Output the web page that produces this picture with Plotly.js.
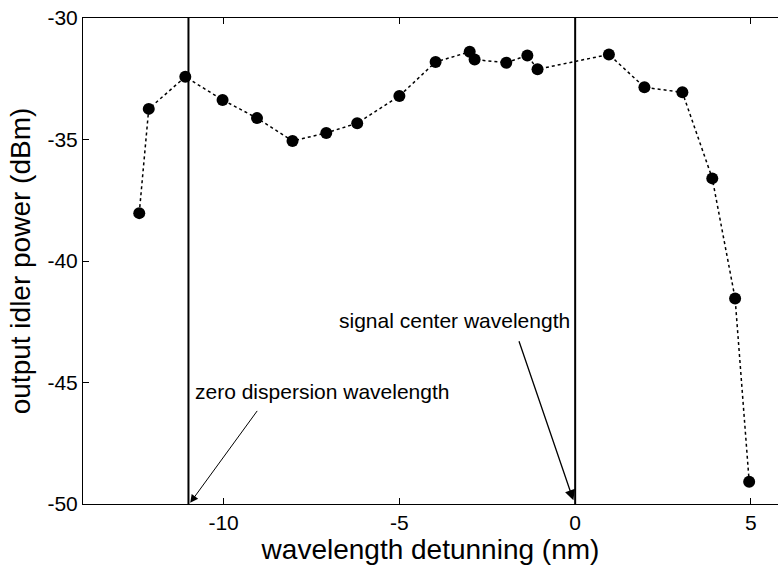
<!DOCTYPE html>
<html>
<head>
<meta charset="utf-8">
<script src="https://cdn.plot.ly/plotly-3.0.1.min.js"></script>
<style>html,body{margin:0;padding:0;background:#fff;overflow:hidden}#chart{width:778px;height:565px}</style>
</head>
<body>
<div id="chart"></div>
<script>
// Data
const detuning = [-12.4, -12.13, -11.09, -10.03, -9.05, -8.04, -7.08, -6.2, -5.0, -3.97, -3.0, -2.86, -1.96, -1.36, -1.07, 0.96, 1.97, 3.05, 3.9, 4.55, 4.95];
const idlerPower = [-38.03, -33.74, -32.42, -33.37, -34.12, -35.06, -34.73, -34.33, -33.21, -31.81, -31.39, -31.71, -31.84, -31.54, -32.11, -31.5, -32.85, -33.06, -36.6, -41.54, -49.08];
const markerLines = [-11, 0];
const markerLabels = ["zero dispersion wavelength", "signal center wavelength"];
const xTicks = [-10, -5, 0, 5];
const yTicks = [-50, -45, -40, -35, -30];

const FONT = "Liberation Sans, Arial, sans-serif";

const trace = {
  x: detuning, y: idlerPower, type: 'scatter', mode: 'lines+markers',
  line: {color: '#000', width: 1.5, dash: 'dot'},
  marker: {color: '#000', size: 12},
  hoverinfo: 'skip', showlegend: false
};

const shapes = markerLines.map(v => ({
  type: 'line', xref: 'x', yref: 'paper', x0: v, x1: v, y0: 0, y1: 1,
  line: {color: '#000', width: 2}
}));

const annotations = [
  {x: -10.87, y: -45.35, xref: 'x', yref: 'y', text: markerLabels[0], showarrow: false,
   xanchor: 'left', yanchor: 'middle', font: {family: FONT, size: 21, color: '#000'}},
  {x: -0.08, y: -42.45, xref: 'x', yref: 'y', text: markerLabels[1], showarrow: false,
   xanchor: 'right', yanchor: 'middle', font: {family: FONT, size: 21, color: '#000'}},
  {x: markerLines[0] + 0.05, y: -49.95, ax: -8.96, ay: -46.0, axref: 'x', ayref: 'y', xref: 'x', yref: 'y',
   text: ' ', showarrow: true, arrowhead: 2, arrowsize: 1.6, arrowwidth: 1, arrowcolor: '#000', standoff: 0, startstandoff: 0},
  {x: markerLines[1] - 0.05, y: -49.85, ax: -1.68, ay: -42.95, axref: 'x', ayref: 'y', xref: 'x', yref: 'y',
   text: ' ', showarrow: true, arrowhead: 2, arrowsize: 1.6, arrowwidth: 1.3, arrowcolor: '#000', standoff: 0, startstandoff: 0}
];

const layout = {
  width: 778, height: 565,
  margin: {l: 83, r: 0, t: 18, b: 61},
  paper_bgcolor: '#fff', plot_bgcolor: '#fff',
  font: {family: FONT, color: '#000'},
  xaxis: {
    range: [-14, 5.77], tickvals: xTicks, ticktext: xTicks.map(String),
    ticks: 'inside', ticklen: 6, tickcolor: '#000', tickwidth: 1,
    showline: true, linecolor: '#000', linewidth: 1, mirror: 'allticks',
    showgrid: false, zeroline: false,
    tickfont: {family: FONT, size: 21, color: '#000'},
    title: {text: 'wavelength detunning (nm)', font: {family: FONT, size: 28, color: '#000'}, standoff: 6}
  },
  yaxis: {
    range: [-50, -30], tickvals: yTicks, ticktext: yTicks.map(String),
    ticks: 'inside', ticklen: 6, tickcolor: '#000', tickwidth: 1,
    showline: true, linecolor: '#000', linewidth: 1,
    showgrid: false, zeroline: false,
    tickfont: {family: FONT, size: 21, color: '#000'},
    title: {text: 'output idler power (dBm)', font: {family: FONT, size: 28, color: '#000'}, standoff: 8}
  },
  shapes: shapes,
  annotations: annotations,
  showlegend: false
};

Plotly.newPlot('chart', [trace], layout, {displayModeBar: false, staticPlot: true});
</script>
</body>
</html>
